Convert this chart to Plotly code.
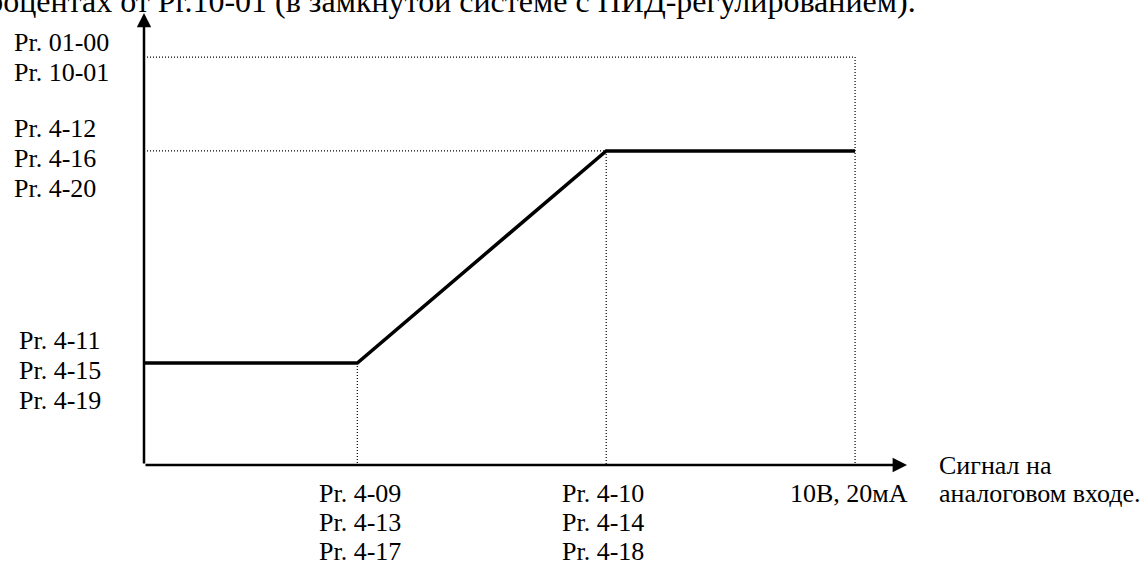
import plotly.graph_objects as go

# ---- data ----
x_levels = [0, 3, 6.5, 10]          # origin, Pr.4-09, Pr.4-10, 10В/20мА
y_levels = [25, 77, 100]            # Pr.4-11 level, Pr.4-12 level, Pr.01-00 level
curve_x = [0, 3, 6.5, 10]
curve_y = [25, 25, 77, 77]
x_max = 10.73
y_max = 110.8

top_text = "процентах от Pr.10-01 (в замкнутой системе с ПИД-регулированием)."
y_label_groups = [
    (100, ["Pr. 01-00", "Pr. 10-01"], [15, -15], 12),
    (77, ["Pr. 4-12", "Pr. 4-16", "Pr. 4-20"], [22, -8, -38], 12),
    (25, ["Pr. 4-11", "Pr. 4-15", "Pr. 4-19"], [23, -7, -37], 17),
]
x_label_groups = [
    (3, ["Pr. 4-09", "Pr. 4-13", "Pr. 4-17"], 3),
    (6.5, ["Pr. 4-10", "Pr. 4-14", "Pr. 4-18"], -3),
]
end_label = "10В, 20мА"
axis_title = ["Сигнал на", "аналоговом входе."]

FONT = "Liberation Serif"
W, H = 1148, 563
L, R, T, B = 144, 241, 13, 98
PW = W - L - R
PH = H - T - B

fig = go.Figure()

# dotted guide lines
dot = dict(color="black", width=1.2, dash="1px,2px")
guides = [
    ([x_levels[0], x_levels[3]], [y_levels[2], y_levels[2]]),
    ([x_levels[3], x_levels[3]], [y_levels[2], 0]),
    ([x_levels[0], x_levels[2]], [y_levels[1], y_levels[1]]),
    ([x_levels[2], x_levels[2]], [y_levels[1], 0]),
    ([x_levels[1], x_levels[1]], [y_levels[0], 0]),
]
for gx, gy in guides:
    fig.add_trace(go.Scatter(x=gx, y=gy, mode="lines", line=dot,
                             hoverinfo="skip", showlegend=False))

# main characteristic
fig.add_trace(go.Scatter(x=curve_x, y=curve_y, mode="lines",
                         line=dict(color="black", width=3.5),
                         hoverinfo="skip", showlegend=False))

ann = []
# axes with arrows
ann.append(dict(x=0, y=y_max, ax=0, ay=0, xref="x", yref="y", axref="x", ayref="y",
                showarrow=True, arrowhead=2, arrowwidth=2.5, arrowsize=1.15,
                arrowcolor="black", text=""))
ann.append(dict(x=x_max, y=0, ax=0, ay=0, xref="x", yref="y", axref="x", ayref="y",
                showarrow=True, arrowhead=2, arrowwidth=2.5, arrowsize=1.15,
                arrowcolor="black", text=""))

tf = dict(family=FONT, size=26, color="black")

# y labels
for yv, lines, shifts, left in y_label_groups:
    for t, s in zip(lines, shifts):
        ann.append(dict(x=(left - L) / PW, y=yv, xref="paper", yref="y", text=t,
                        showarrow=False, xanchor="left", yanchor="middle",
                        yshift=s, font=tf))

# x labels
x_shifts = [-28, -57, -86]
for xv, lines, xs in x_label_groups:
    for t, s in zip(lines, x_shifts):
        ann.append(dict(x=xv, y=0, xref="x", yref="y", text=t, showarrow=False,
                        xanchor="center", yanchor="middle", xshift=xs, yshift=s,
                        font=tf))
ann.append(dict(x=x_levels[3], y=0, xref="x", yref="y", text=end_label,
                showarrow=False, xanchor="center", yanchor="middle",
                xshift=-6, yshift=-28, font=tf))
for t, s in zip(axis_title, [0, -28]):
    ann.append(dict(x=1.0, y=0, xref="paper", yref="y", text=t, showarrow=False,
                    xanchor="left", yanchor="middle", xshift=30, yshift=s, font=tf))

# top (cut-off in the reference) text
ann.append(dict(x=(-32 - L) / PW, y=1 + (T - 1) / PH, xref="paper", yref="paper",
                text=top_text, showarrow=False, xanchor="left", yanchor="middle",
                font=dict(family=FONT, size=32, color="black")))

fig.update_layout(
    width=W, height=H,
    margin=dict(l=L, r=R, t=T, b=B),
    paper_bgcolor="white", plot_bgcolor="white",
    xaxis=dict(range=[0, x_max], visible=False, fixedrange=True),
    yaxis=dict(range=[0, y_max], visible=False, fixedrange=True),
    annotations=ann,
    showlegend=False,
)

fig.write_html(
    "out.html",
    config={"displayModeBar": False},
    post_script="document.body.style.margin='0';document.body.style.overflow='hidden';",
)
